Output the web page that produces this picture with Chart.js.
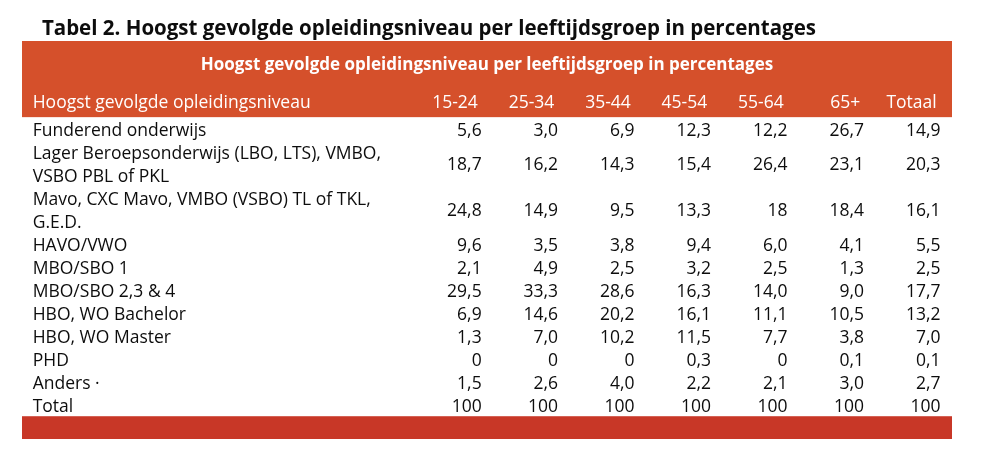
<!DOCTYPE html>
<html>
<head>
<meta charset="utf-8">
<script src="https://cdn.jsdelivr.net/npm/chart.js@4.4.1/dist/chart.umd.min.js"></script>
<style>
    html, body { margin: 0; padding: 0; background: #fff; }
    #wrap { width: 982px; height: 461px; position: relative; }
</style>
</head>
<body>
<div id="wrap"><canvas id="tableChart"></canvas></div>
<script>
// Table data
const tableTitle = 'Tabel 2. Hoogst gevolgde opleidingsniveau per leeftijdsgroep in percentages';
const headerTitle = 'Hoogst gevolgde opleidingsniveau per leeftijdsgroep in percentages';
const firstColumnHeader = 'Hoogst gevolgde opleidingsniveau';
const ageGroups = ['15-24', '25-34', '35-44', '45-54', '55-64', '65+', 'Totaal'];

// Row labels (multi-line labels as arrays)
const levels = [
    ['Funderend onderwijs'],
    ['Lager Beroepsonderwijs (LBO, LTS), VMBO,', 'VSBO PBL of PKL'],
    ['Mavo, CXC Mavo, VMBO (VSBO) TL of TKL,', 'G.E.D.'],
    ['HAVO/VWO'],
    ['MBO/SBO 1'],
    ['MBO/SBO 2,3 & 4'],
    ['HBO, WO Bachelor'],
    ['HBO, WO Master'],
    ['PHD'],
    ['Anders \u00b7'],
    ['Total']
];

// Percentages per age group (as printed)
const age15to24 = ['5,6', '18,7', '24,8', '9,6', '2,1', '29,5', '6,9', '1,3', '0', '1,5', '100'];
const age25to34 = ['3,0', '16,2', '14,9', '3,5', '4,9', '33,3', '14,6', '7,0', '0', '2,6', '100'];
const age35to44 = ['6,9', '14,3', '9,5', '3,8', '2,5', '28,6', '20,2', '10,2', '0', '4,0', '100'];
const age45to54 = ['12,3', '15,4', '13,3', '9,4', '3,2', '16,3', '16,1', '11,5', '0,3', '2,2', '100'];
const age55to64 = ['12,2', '26,4', '18', '6,0', '2,5', '14,0', '11,1', '7,7', '0', '2,1', '100'];
const age65plus = ['26,7', '23,1', '18,4', '4,1', '1,3', '9,0', '10,5', '3,8', '0,1', '3,0', '100'];
const ageTotal  = ['14,9', '20,3', '16,1', '5,5', '2,5', '17,7', '13,2', '7,0', '0,1', '2,7', '100'];

const columns = [age15to24, age25to34, age35to44, age45to54, age55to64, age65plus, ageTotal];

// Colors / fonts
const HEADER_RED = '#d5502b';
const FOOTER_RED = '#c83727';
const FONT = '"Open Sans", Lato, sans-serif';
const SHIFT = 0.07; // small downward nudge for text baseline

// Line index where every row starts
const rowStart = [];
let line = 0;
levels.forEach(l => {
    rowStart.push(line);
    line += l.length;
});
const lineCount = line;

const tablePlugin = {
    id: 'tablePlugin',
    beforeDraw(chart) {
        const ctx = chart.ctx;
        ctx.save();
        ctx.fillStyle = '#fff';
        ctx.fillRect(0, 0, chart.width, chart.height);
        ctx.restore();
    },
    afterDraw(chart) {
        const { ctx, scales: { x, y } } = chart;
        const ty = v => y.getPixelForValue(v + SHIFT);
        ctx.save();

        // Header block and footer bar
        const headerBottom = y.getPixelForValue(-0.52);
        ctx.fillStyle = HEADER_RED;
        ctx.fillRect(x.left, y.top, x.right - x.left, headerBottom - y.top);
        const footerTop = y.getPixelForValue(lineCount - 0.52);
        ctx.fillStyle = FOOTER_RED;
        ctx.fillRect(x.left, footerTop, x.right - x.left, y.bottom - footerTop);

        // Title above the table
        ctx.fillStyle = '#0d0d0d';
        ctx.font = 'bold 20.5px ' + FONT;
        ctx.textBaseline = 'middle';
        ctx.textAlign = 'left';
        ctx.fillText(tableTitle, x.getPixelForValue(-5.75), y.top - 12);

        // Header title
        ctx.fillStyle = '#fff';
        ctx.font = 'bold 17px ' + FONT;
        ctx.textAlign = 'center';
        ctx.fillText(headerTitle, (x.left + x.right) / 2, ty(-2.87));

        // Column headers
        ctx.font = '17.5px ' + FONT;
        ctx.textAlign = 'left';
        ctx.fillText(firstColumnHeader, x.getPixelForValue(-5.87), ty(-1.22));
        ctx.textAlign = 'right';
        ageGroups.forEach((g, i) => {
            ctx.fillText(g, x.getPixelForValue(i - 0.05), ty(-1.22));
        });

        // Body
        ctx.fillStyle = '#0d0d0d';
        levels.forEach((label, r) => {
            ctx.textAlign = 'left';
            label.forEach((txt, k) => {
                ctx.fillText(txt, x.getPixelForValue(-5.87), ty(rowStart[r] + k));
            });
            const mid = rowStart[r] + (label.length - 1) / 2;
            ctx.textAlign = 'right';
            columns.forEach((col, c) => {
                ctx.fillText(col[r], x.getPixelForValue(c), ty(mid));
            });
        });

        ctx.restore();
    }
};

const chart = new Chart(document.getElementById('tableChart'), {
    type: 'scatter',
    data: { datasets: [] },
    options: {
        responsive: true,
        maintainAspectRatio: false,
        animation: false,
        events: [],
        layout: {
            padding: { top: 41, left: 22, right: 30, bottom: 22 }
        },
        plugins: {
            legend: { display: false },
            title: { display: false },
            tooltip: { enabled: false }
        },
        scales: {
            x: { type: 'linear', min: -6.01, max: 6.15, display: false },
            y: { type: 'linear', reverse: true, min: -3.83, max: 13.47, display: false }
        }
    },
    plugins: [tablePlugin]
});
</script>
</body>
</html>
